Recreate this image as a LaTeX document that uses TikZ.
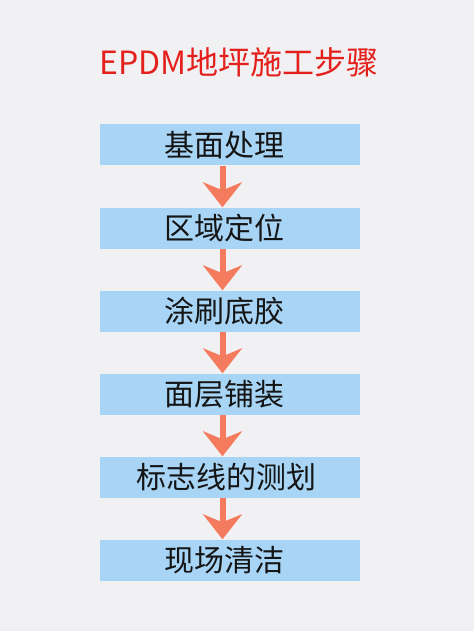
\documentclass[tikz,border=0pt]{standalone}
\usepackage{fontspec}
\newfontfamily\cjk{Noto Sans CJK SC}
\usetikzlibrary{arrows.meta,positioning}
\definecolor{bgGray}{HTML}{F1F1F3}
\definecolor{boxBlue}{HTML}{A8D5F6}
\definecolor{arrowOrange}{HTML}{F47B5D}
\definecolor{titleRed}{HTML}{E4201C}
\definecolor{textBlack}{HTML}{151515}
\begin{document}
\begin{tikzpicture}[x=1pt,y=-1pt,
		stepbox/.style={fill=boxBlue,minimum width=260pt,minimum height=41pt,inner sep=0pt,
			text=textBlack,font=\cjk\fontsize{30}{30}\selectfont},
		flow/.style={draw=arrowOrange,line width=6pt,
			-{Stealth[length=25pt,width=39pt,inset=8pt,fill=arrowOrange]}}]
			\useasboundingbox (0,0) rectangle (474,631);
			\fill [bgGray] (0,0) rectangle (474,631);
			\node [text=titleRed,font=\cjk\fontsize{32}{32}\selectfont] (title) at (239,62) {EPDM地坪施工步骤};
			\node [stepbox] (b1) at (230,145) {\hspace*{-12pt}基面处理};
			\node [stepbox,below=41.6pt of b1] (b2) {\hspace*{-12pt}区域定位};
			\node [stepbox,below=41.6pt of b2] (b3) {\hspace*{-12pt}涂刷底胶};
			\node [stepbox,below=41.6pt of b3] (b4) {\hspace*{-12pt}面层铺装};
			\node [stepbox,below=41.6pt of b4] (b5) {\hspace*{-8pt}标志线的测划};
			\node [stepbox,below=41.6pt of b5] (b6) {\hspace*{-12pt}现场清洁};
			\foreach \a/\b in {b1/b2,b2/b3,b3/b4,b4/b5,b5/b6}
				\draw [flow] ([xshift=-7.5pt]\a.south) -- ([xshift=-7.5pt]\b.north);
		\end{tikzpicture}
\end{document}
